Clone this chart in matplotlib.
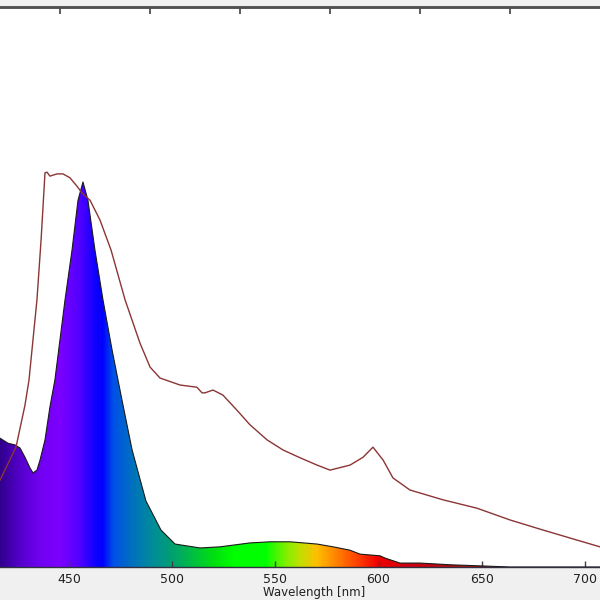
import numpy as np
import matplotlib
matplotlib.use("Agg")
import matplotlib.pyplot as plt
from matplotlib.colors import LinearSegmentedColormap, Normalize
from matplotlib.patches import Polygon

# ---- data ----
# emission spectrum (filled, rainbow coloured)
em_wl = [416.6, 420.5, 423.9, 426.3, 428.7, 431.1, 432.6, 434.5, 436.0, 438.4,
         440.8, 443.2, 448.1, 451.5, 454.4, 456.8, 459.2, 462.6, 466.5, 470.9,
         475.7, 480.6, 487.3, 494.6, 501.4, 513.5, 523.2, 537.7, 547.4, 557.1,
         570.2, 578.0, 586.2, 591.0, 600.7, 603.1, 610.4, 620.1, 634.6, 649.2,
         663.7, 668.5, 707.3]
em_val = [0.230, 0.221, 0.218, 0.2125, 0.196, 0.177, 0.168, 0.173, 0.191, 0.227,
          0.286, 0.334, 0.477, 0.566, 0.655, 0.6875, 0.655, 0.566, 0.477, 0.3875,
          0.298, 0.209, 0.118, 0.066, 0.041, 0.034, 0.036, 0.043, 0.045, 0.045,
          0.041, 0.036, 0.030, 0.023, 0.020, 0.016, 0.007, 0.007, 0.004, 0.002,
          0.0, 0.0, 0.0]

# second curve (thin dark red line)
ln_wl = [416.6, 424.35, 428.7, 430.65, 434.5, 436.5, 438.4, 439.4, 440.8, 444.2,
         447.1, 450.5, 453.9, 456.3, 460.2, 465.0, 470.4, 477.2, 484.4, 489.3,
         494.1, 503.8, 512.0, 514.5, 515.9, 519.8, 524.6, 531.4, 537.7, 546.0,
         553.7, 562.0, 570.2, 576.5, 586.2, 592.5, 597.3, 602.2, 607.0, 615.2,
         631.2, 647.7, 663.7, 679.7, 696.2, 707.3]
ln_val = [0.155, 0.214, 0.289, 0.334, 0.477, 0.584, 0.704, 0.705, 0.698, 0.702,
          0.702, 0.695, 0.680, 0.668, 0.655, 0.620, 0.566, 0.477, 0.400, 0.357,
          0.3375, 0.325, 0.321, 0.311, 0.311, 0.316, 0.307, 0.280, 0.254, 0.227,
          0.209, 0.195, 0.182, 0.173, 0.182, 0.196, 0.214, 0.191, 0.159, 0.1375,
          0.120, 0.105, 0.084, 0.066, 0.048, 0.036]

bottom_ticks = [450, 500, 550, 600, 650, 700]
top_ticks = [445.7, 489.3, 532.9, 576.5, 620.1, 663.7]
x_label = "Wavelength [nm]"

# ---- style ----
XMIN, XMAX = 416.6, 707.3
spec_anchor_nm = [416, 425, 435, 445, 455, 462, 466, 471, 480, 490, 500, 510,
                  520, 530, 545, 555, 562, 570, 580, 590, 600, 615, 640, 710]
spec_anchor_col = ['#30008c', '#5200c8', '#7000f0', '#7d00ff', '#5000ff', '#1000ff',
                   '#0000ff', '#0050e8', '#0070c0', '#008c9a', '#00a070', '#00c040',
                   '#00e010', '#00ff00', '#00ff00', '#80f000', '#c0e000', '#ffc000',
                   '#ff8000', '#ff4000', '#f00000', '#d00010', '#b01010', '#a01010']
pos = [(v - 416) / (710 - 416) for v in spec_anchor_nm]
cmap = LinearSegmentedColormap.from_list('spec', list(zip(pos, spec_anchor_col)))

fig = plt.figure(figsize=(6, 6), dpi=100, facecolor='#f0f0f0')
ax = fig.add_axes([0, 0.055, 1, 0.9333])
ax.set_facecolor('white')
ax.set_xlim(XMIN, XMAX)
ax.set_ylim(0, 1)

grad = np.linspace(416, 710, 1200)[None, :]
im = ax.imshow(grad, extent=[416, 710, 0, 1], aspect='auto', origin='lower',
               cmap=cmap, norm=Normalize(416, 710), interpolation='bilinear', zorder=1)
wl = np.array(em_wl)
ev = np.array(em_val)
poly = Polygon(np.column_stack([np.concatenate([wl, wl[::-1]]),
                                np.concatenate([ev, np.zeros_like(ev)])]),
               closed=True, facecolor='none', edgecolor='none', transform=ax.transData)
ax.add_patch(poly)
im.set_clip_path(poly)
ax.plot(em_wl, em_val, color='#1a1a1a', lw=0.8, zorder=2)
ax.plot(ln_wl, ln_val, color='#8b3535', lw=1.0, zorder=3)

for s in ['left', 'right']:
    ax.spines[s].set_visible(False)
ax.spines['bottom'].set_color('#303040')
ax.spines['bottom'].set_linewidth(1.0)
ax.spines['top'].set_color('#505050')
ax.spines['top'].set_linewidth(1.8)
ax.set_yticks([])
ax.set_xticks(bottom_ticks)
ax.tick_params(axis='x', direction='in', length=4, width=1, color='#404040',
               labelsize=9, pad=4, labelcolor='#202020')
ax.set_xlabel(x_label, fontsize=8.5, color='#202020')
ax.xaxis.set_label_coords(314 / 600, -0.034)

ax2 = ax.twiny()
ax2.set_xlim(XMIN, XMAX)
ax2.set_xticks(top_ticks)
ax2.tick_params(axis='x', direction='in', length=5, width=1.2, color='#404040',
                labeltop=False)
for s in ['left', 'right', 'bottom']:
    ax2.spines[s].set_visible(False)
ax2.spines['top'].set_color('#505050')
ax2.spines['top'].set_linewidth(1.8)

fig.savefig('out.png', dpi=100, facecolor=fig.get_facecolor())
